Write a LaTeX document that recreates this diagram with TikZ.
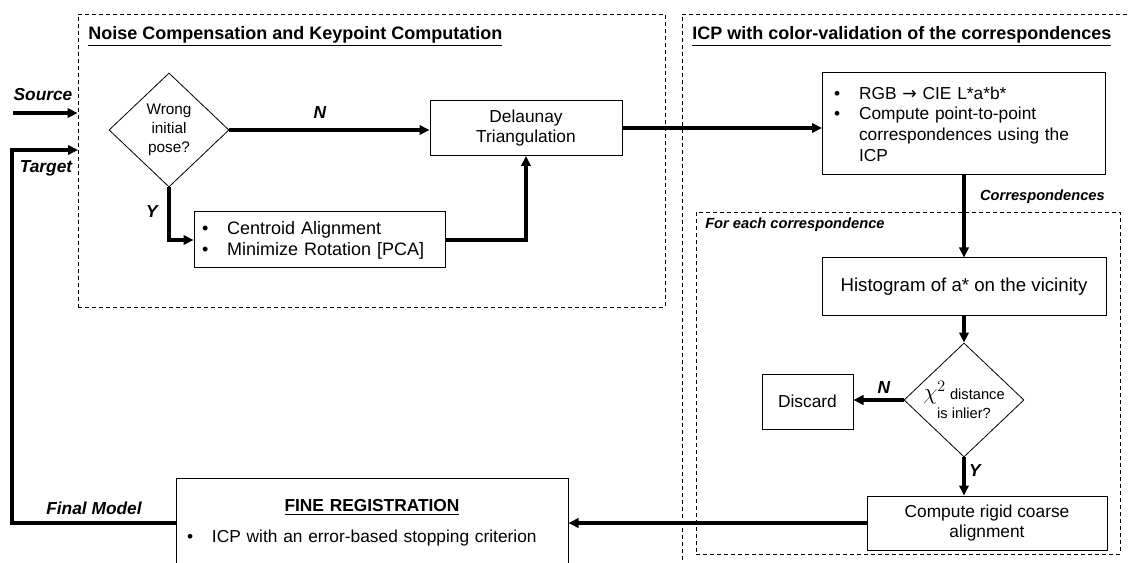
\documentclass[tikz,border=0pt]{standalone}
\usepackage{fontspec}
\setmainfont{Liberation Sans}
\newfontfamily\symfont{DejaVu Sans}
\usetikzlibrary{shapes.geometric,arrows.meta}
\newcommand{\bul}{\makebox[18.75pt][l]{\textbullet}}

\begin{document}
\begin{tikzpicture}[x=0.75pt,y=-0.75pt,
	box/.style={draw,line width=0.75pt,inner sep=0pt,align=center,font=\fontsize{13}{15.5}\selectfont},
	dec/.style={draw,diamond,line width=0.6pt,inner sep=0pt,align=center,minimum width=90pt,minimum height=85.5pt,font=\fontsize{11.5}{14.25}\selectfont},
	frame/.style={draw,dash pattern=on 3pt off 2.25pt,line width=0.6pt,inner sep=0pt},
	flow/.style={line width=2.4pt,-{Triangle[length=7.5pt,width=7pt]}},
	lab/.style={inner sep=0pt,font=\fontsize{13}{13}\selectfont\bfseries\itshape},
	head/.style={inner sep=0pt,anchor=west,font=\fontsize{13.5}{13.5}\selectfont\bfseries}]
	\useasboundingbox (0,0) rectangle (1129,563);
	\clip (0,0) rectangle (1129,563);
	% stages
	\node[frame,minimum width=440.25pt,minimum height=219.75pt] (noise) at (371.5,160.5) {};
	\node[frame,minimum width=343.5pt,minimum height=439.5pt] (icp) at (911,307) {};
	\node[frame,minimum width=318pt,minimum height=256.5pt] (each) at (908,383) {};
	\node[head] (noisetitle) at (88,36) {\underline{Noise Compensation and Keypoint Computation}};
	\node[head] (icptitle) at (692,36) {\underline{ICP with color-validation of the correspondences}};
	\node[lab,anchor=west,font=\fontsize{11}{11}\selectfont\bfseries\itshape] (eachtitle) at (705,225) {For each correspondence};
	% noise compensation
	\node[dec] (wrong) at (169,130) {Wrong\\initial\\pose?};
	\node[box,minimum width=144pt,minimum height=41.25pt] (delaunay) at (526,128) {Delaunay\\Triangulation};
	\node[box,minimum width=188.25pt,minimum height=42pt,text width=176pt,align=left,font=\fontsize{13.5}{15.75}\selectfont] (centroid) at (319.5,240) {\bul Centroid Alignment\\\bul Minimize Rotation [PCA]};
	% icp
	\node[box,minimum width=212.25pt,minimum height=76.5pt,text width=195pt,align=left] (rgb) at (964,124) {\bul RGB {\symfont →} CIE L*a*b*\\\bul Compute point-to-point\\\hspace*{18.75pt}correspondences using the\\\hspace*{18.75pt}ICP};
	\node[box,minimum width=213pt,minimum height=42.75pt,font=\fontsize{14}{16}\selectfont] (hist) at (964,286.5) {Histogram of a* on the vicinity};
	\node[dec,inner sep=-4pt,font=\fontsize{11}{14}\selectfont] (chi) at (964,400) {{\fontsize{18}{18}\selectfont$\chi^2$} distance\\is inlier?};
	\node[box,minimum width=68.25pt,minimum height=41.25pt] (discard) at (807.5,401.5) {Discard};
	\node[box,minimum width=180pt,minimum height=40.5pt] (rigid) at (987,523) {Compute rigid coarse\\alignment};
	\node[box,minimum width=294pt,minimum height=67.5pt,text width=277.5pt,align=left] (fine) at (372,523) {\makebox[\linewidth]{\bfseries\underline{FINE REGISTRATION}}\\[7.5pt]\bul ICP with an error-based stopping criterion};
	% inputs
	\coordinate (sfree) at (13,113);
	\coordinate (back) at (12,523);
	\coordinate (tin) at (78,150);
	\draw[flow] (sfree) -- (noise.west |- sfree);
	\draw[flow] (fine.west |- rigid.west) -- (back) |- (tin);
	\node[lab] (source) at (43,95) {Source};
	\node[lab] (target) at (46,168) {Target};
	\node[lab] (final) at (94,508) {Final Model};
	% connectors
	\draw[flow] (wrong.east) -- (delaunay.west |- wrong.east);
	\draw[flow] (wrong.south) |- (centroid.west);
	\draw[flow] (centroid.east) -| (delaunay.south);
	\draw[flow] (delaunay.east) -- (rgb.west |- delaunay.east);
	\draw[flow] (rgb.south) -- (hist.north);
	\draw[flow] (hist.south) -- (chi.north);
	\draw[flow] (chi.west) -- (discard.east |- chi.west);
	\draw[flow] (chi.south) -- (chi.south |- rigid.north);
	\draw[flow] (rigid.west) -- (fine.east |- rigid.west);
	\node[lab] (n1) at (320,113) {N};
	\node[lab] (y1) at (152,212) {Y};
	\node[lab] (n2) at (884,388) {N};
	\node[lab] (y2) at (975,471) {Y};
	\node[lab,anchor=east,font=\fontsize{11}{11}\selectfont\bfseries\itshape] (corr) at (1105,197) {Correspondences};
\end{tikzpicture}
\end{document}
